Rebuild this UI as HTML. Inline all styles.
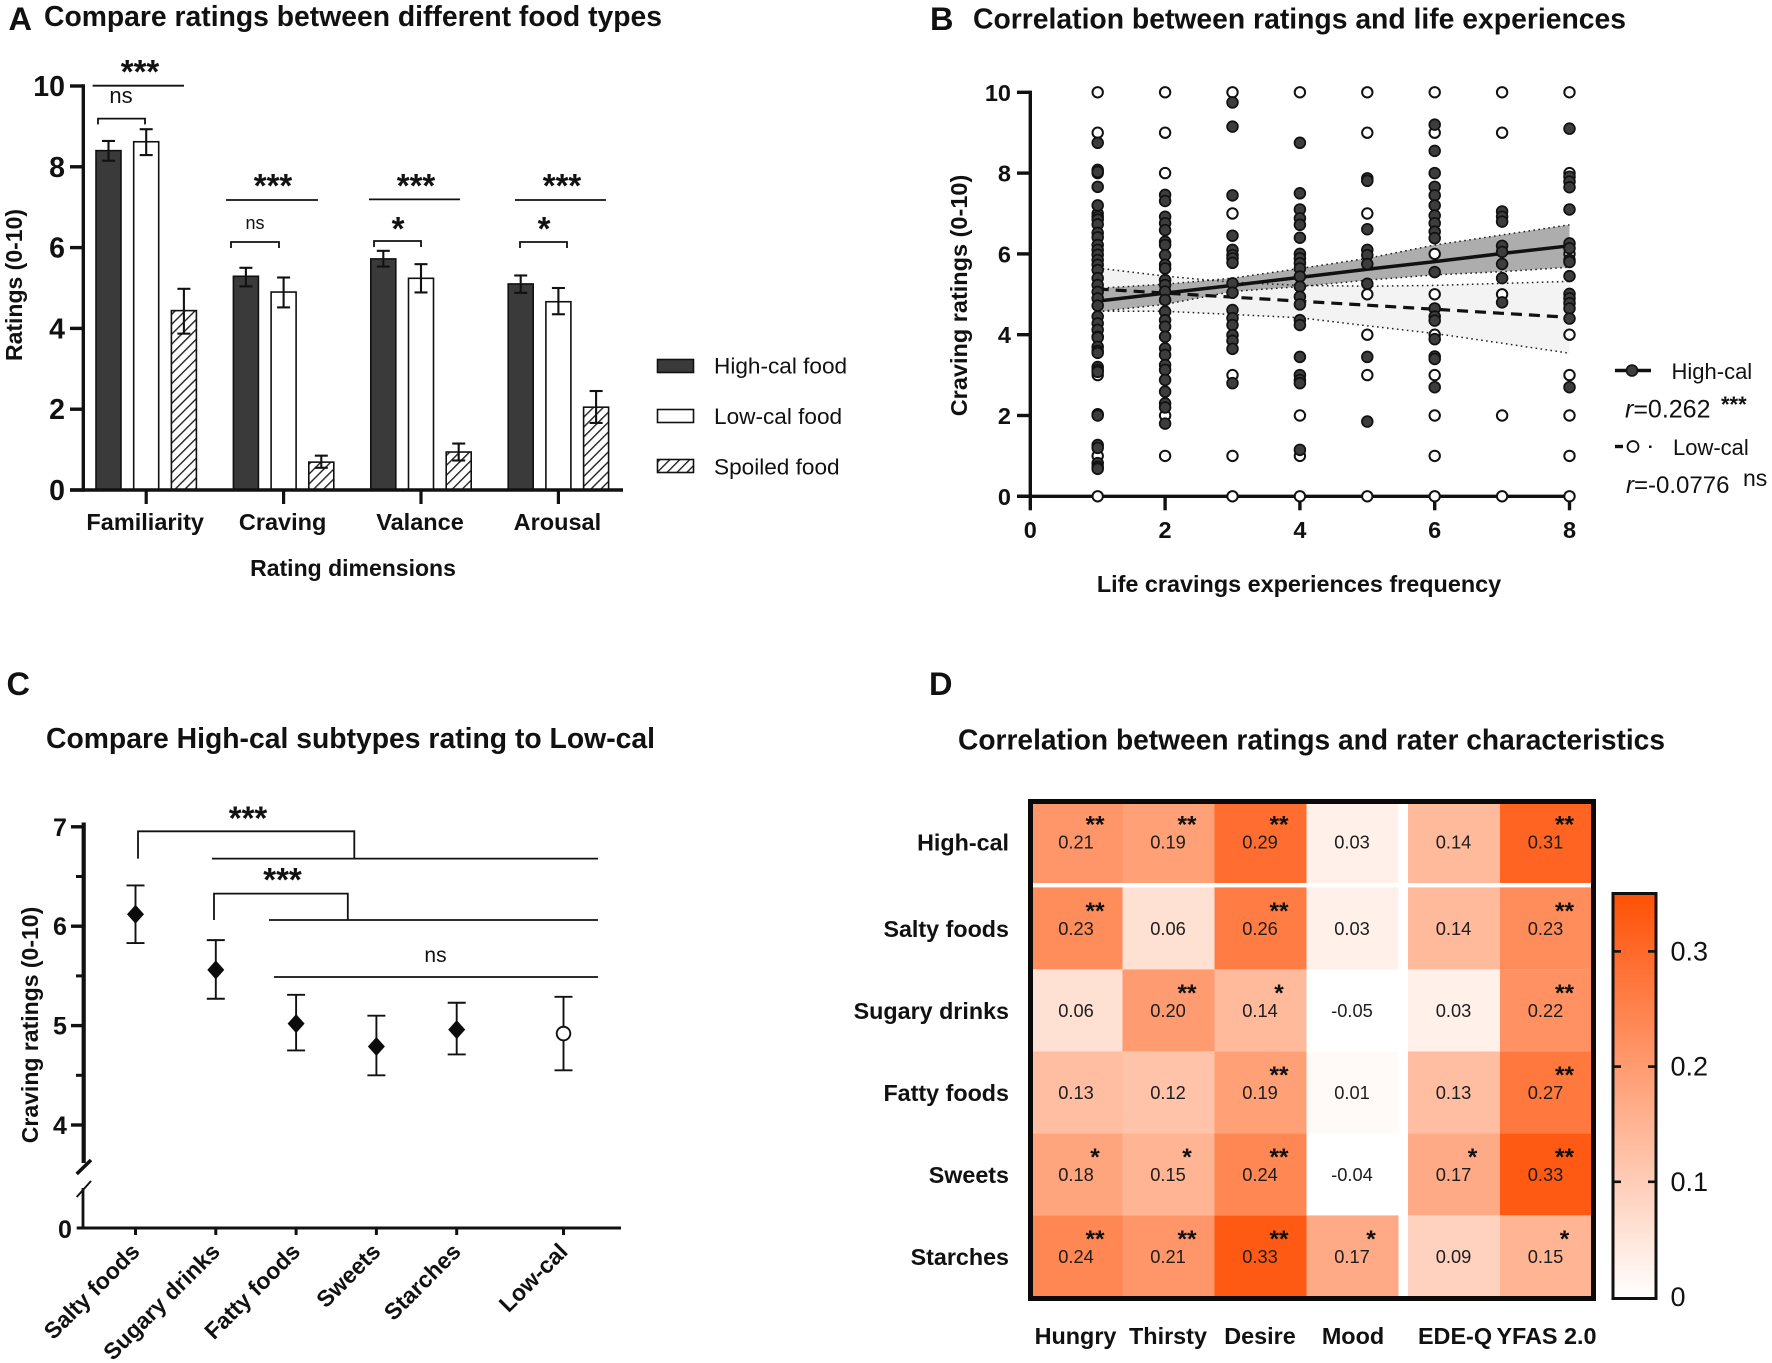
<!DOCTYPE html>
<html lang="en">
<head>
<meta charset="utf-8">
<title>Food rating figure</title>
<style>
html,body{margin:0;padding:0;background:#fff;}
#figure{display:block;width:1772px;height:1363px;font-family:"Liberation Sans",Arial,sans-serif;}
text{fill:#111;font-family:"Liberation Sans",Arial,sans-serif;}
.b{font-weight:bold;}
.title{font-size:28.5px;font-weight:bold;}
.letter{font-size:32.5px;font-weight:bold;}
.axt{font-size:23px;font-weight:bold;}
.star{font-size:33px;font-weight:bold;}
.sig{stroke:#111;stroke-width:1.8;fill:none;}
</style>
</head>
<body>
<svg id="figure" xmlns="http://www.w3.org/2000/svg" width="1772" height="1363" viewBox="0 0 1772 1363">
<defs>
<pattern id="hatch" patternUnits="userSpaceOnUse" width="7" height="7" patternTransform="rotate(45)">
<rect width="7" height="7" fill="#fff"/>
<line x1="0" y1="0" x2="0" y2="7" stroke="#222" stroke-width="2.8"/>
</pattern>
<linearGradient id="cbar" x1="0" y1="1" x2="0" y2="0">
<stop offset="0" stop-color="#ffffff"/>
<stop offset="1" stop-color="#ff5005"/>
</linearGradient>
</defs>
<rect width="1772" height="1363" fill="#fff"/>

<!-- Panel A -->
<g id="panelA">
<text class="letter" x="8.5" y="30">A</text>
<text class="title" x="44" y="26" textLength="618" lengthAdjust="spacingAndGlyphs">Compare ratings between different food types</text>
<text class="axt" transform="translate(22,285) rotate(-90)" text-anchor="middle">Ratings (0-10)</text>
<text class="axt" x="353" y="576" text-anchor="middle">Rating dimensions</text>
<g id="aMarks"></g>
<g>
<path class="sig" d="M92.6 85.7H184"/>
<text class="star" x="140" y="83" text-anchor="middle">***</text>
<text x="121" y="103" font-size="22" text-anchor="middle">ns</text>
<path class="sig" d="M98 124.4V118.6H145V124.4"/>
<path class="sig" d="M226 200H318"/>
<text class="star" x="273" y="197" text-anchor="middle">***</text>
<text x="255" y="229" font-size="18" text-anchor="middle">ns</text>
<path class="sig" d="M231 248V242H279V248"/>
<path class="sig" d="M369 199.4H460"/>
<text class="star" x="416" y="197" text-anchor="middle">***</text>
<text class="star" x="398" y="240" text-anchor="middle">*</text>
<path class="sig" d="M374 247V241H421V247"/>
<path class="sig" d="M515 200H606"/>
<text class="star" x="562" y="197" text-anchor="middle">***</text>
<text class="star" x="544" y="240" text-anchor="middle">*</text>
<path class="sig" d="M520 248V242H567V248"/>
</g>
<g>
<rect x="657.5" y="359.5" width="36" height="13" fill="#3a3a3a" stroke="#111" stroke-width="1.6"/>
<text x="714" y="373.5" font-size="22.6">High-cal food</text>
<rect x="657.5" y="409.5" width="36" height="13" fill="#fff" stroke="#111" stroke-width="1.6"/>
<text x="714" y="424" font-size="22.6">Low-cal food</text>
<rect x="657.5" y="459.5" width="36" height="13" fill="url(#hatch)" stroke="#111" stroke-width="1.6"/>
<text x="714" y="474.5" font-size="22.6">Spoiled food</text>
</g>
</g>

<!-- Panel B -->
<g id="panelB">
<text class="letter" x="930" y="30">B</text>
<text class="title" x="973" y="28.5" textLength="653" lengthAdjust="spacingAndGlyphs">Correlation between ratings and life experiences</text>
<text class="axt" transform="translate(967,295.5) rotate(-90)" text-anchor="middle" font-size="23.5" style="font-size:23.5px">Craving ratings (0-10)</text>
<text class="axt" x="1299" y="592" text-anchor="middle" style="font-size:23.4px">Life cravings experiences frequency</text>
<g id="bMarks"></g>
<g>
<line x1="1615" y1="370.5" x2="1651" y2="370.5" stroke="#111" stroke-width="3.4"/>
<circle cx="1632" cy="370.5" r="5.5" fill="#3d3d3d" stroke="#111" stroke-width="1.6"/>
<text x="1671.5" y="379" font-size="22">High-cal</text>
<text x="1625" y="417.5" font-size="25"><tspan font-style="italic">r</tspan>=0.262</text>
<text x="1721" y="412" font-size="22" class="b">***</text>
<line x1="1615" y1="446.5" x2="1623" y2="446.5" stroke="#111" stroke-width="3.4"/>
<circle cx="1633" cy="446.5" r="5.5" fill="#fff" stroke="#111" stroke-width="1.8"/>
<rect x="1649" y="445.5" width="2.5" height="2.5" fill="#111"/>
<text x="1673" y="455" font-size="22">Low-cal</text>
<text x="1626" y="493" font-size="24"><tspan font-style="italic">r</tspan>=-0.0776</text>
<text x="1743" y="486" font-size="23">ns</text>
</g>
</g>

<!-- Panel C -->
<g id="panelC">
<text class="letter" x="6.5" y="695">C</text>
<text class="title" x="46" y="748" textLength="609" lengthAdjust="spacingAndGlyphs">Compare High-cal subtypes rating to Low-cal</text>
<text class="axt" transform="translate(38,1025) rotate(-90)" text-anchor="middle">Craving ratings (0-10)</text>
<g id="cMarks"></g>
<g>
<path class="sig" d="M138 858.6V831.3H354.3V858.6"/>
<path class="sig" d="M212 858.6H598"/>
<text class="star" x="248" y="829.5" text-anchor="middle">***</text>
<path class="sig" d="M214 920V893.6H347.8V920"/>
<path class="sig" d="M269 920H598"/>
<text class="star" x="282.5" y="891" text-anchor="middle">***</text>
<path class="sig" d="M274 977H598"/>
<text x="435.5" y="962" font-size="21" text-anchor="middle">ns</text>
</g>
</g>

<!-- Panel D -->
<g id="panelD">
<text class="letter" x="929" y="695">D</text>
<text class="title" x="958" y="749.5" textLength="707" lengthAdjust="spacingAndGlyphs">Correlation between ratings and rater characteristics</text>
<g id="dMarks"></g>
<rect x="1030.5" y="801.5" width="563" height="497" fill="none" stroke="#0a0a0a" stroke-width="5"/>
<g>
<rect x="1613" y="893.5" width="43" height="405" fill="url(#cbar)" stroke="#111" stroke-width="3"/>
<g id="cbarTicks"></g>
</g>
</g>

<script>
/* ---------- Panel A data ---------- */
const aCategories = ['Familiarity', 'Craving', 'Valance', 'Arousal'];
const aSeries = ['high-cal', 'low-cal', 'spoiled'];
const aHighCal = [8.4, 5.29, 5.72, 5.1];
const aHighCalUpper = [8.64, 5.5, 5.92, 5.31];
const aHighCalLower = [8.15, 5.04, 5.53, 4.88];
const aLowCal = [8.62, 4.9, 5.24, 4.66];
const aLowCalUpper = [8.93, 5.26, 5.59, 5.0];
const aLowCalLower = [8.29, 4.52, 4.89, 4.35];
const aSpoiled = [4.44, 0.69, 0.94, 2.05];
const aSpoiledUpper = [4.98, 0.85, 1.15, 2.45];
const aSpoiledLower = [3.87, 0.55, 0.73, 1.66];
const aYTicks = [0, 2, 4, 6, 8, 10];

/* ---------- Panel B data ---------- */
const bXTicks = [0, 2, 4, 6, 8];
const bYTicks = [0, 2, 4, 6, 8, 10];
const bFrequencies = [1, 2, 3, 4, 5, 6, 7, 8];
const bHighRatings = [
  [8.75,8.08,8.03,7.66,7.2,6.92,6.85,6.73,6.52,6.41,6.22,6.1,5.98,5.85,5.73,5.6,5.4,5.23,5.06,4.9,4.72,4.45,4.28,4.12,3.95,3.93,3.7,3.6,3.55,3.2,3.13,3.08,2.03,2.0,1.27,1.2,0.82,0.73,0.68],
  [7.46,7.31,6.92,6.76,6.59,6.3,6.22,5.97,5.73,5.64,5.35,5.23,5.07,4.86,4.57,4.36,4.2,3.95,3.66,3.5,3.25,3.13,2.88,2.59,2.3,2.2,1.8],
  [9.75,9.15,7.45,6.45,6.1,5.97,5.89,5.78,5.27,5.04,4.61,4.41,4.24,3.99,3.85,3.65,2.8],
  [8.75,7.5,7.1,6.88,6.72,6.4,6.0,5.89,5.77,5.64,5.44,5.19,4.94,4.75,4.36,4.24,3.45,3.0,2.88,2.8,1.15],
  [7.87,7.81,6.61,6.1,5.97,5.75,5.26,3.45,1.85],
  [9.2,8.55,8.0,7.66,7.45,7.2,6.95,6.76,6.55,6.39,5.55,4.65,4.45,4.35,3.89,3.46,3.4,2.7],
  [7.05,6.92,6.8,6.2,6.05,5.75,5.4,4.8],
  [9.1,7.91,7.79,7.65,7.1,6.26,6.14,5.85,5.8,5.45,5.01,4.9,4.78,4.65,4.4,2.7]
];
const bLowRatings = [
  [10,9,8,7,3,1,0],
  [10,9,8,2,1],
  [10,7,3,1,0],
  [10,2,1,0],
  [10,9,7,5,4,3,0],
  [10,9,6,5,4,3,2,1,0],
  [10,9,5,2,0],
  [10,8,6,4,3,2,1,0]
];
const bHighFit = [4.83, 5.03, 5.22, 5.42, 5.62, 5.81, 6.01, 6.2];
const bHighUpper = [5.15, 5.25, 5.4, 5.64, 5.89, 6.22, 6.47, 6.72];
const bHighLower = [4.57, 4.75, 5.07, 5.19, 5.35, 5.48, 5.56, 5.67];
const bLowFit = [5.13, 5.03, 4.93, 4.83, 4.73, 4.63, 4.53, 4.43];
const bLowUpper = [5.65, 5.45, 5.3, 5.22, 5.2, 5.22, 5.27, 5.32];
const bLowLower = [4.58, 4.58, 4.5, 4.42, 4.22, 4.03, 3.79, 3.54];

/* ---------- Panel C data ---------- */
const cCategories = ['Salty foods', 'Sugary drinks', 'Fatty foods', 'Sweets', 'Starches', 'Low-cal'];
const cSlots = [0, 1, 2, 3, 4, 5.33];
const cMeans = [6.12, 5.56, 5.02, 4.79, 4.96, 4.92];
const cUpper = [6.41, 5.86, 5.31, 5.1, 5.23, 5.29];
const cLower = [5.83, 5.27, 4.75, 4.5, 4.71, 4.55];
const cYTicks = [4, 5, 6, 7];
const cMinorTicks = [4.5, 5.5, 6.5];

/* ---------- Panel D data ---------- */
const dRows = ['High-cal', 'Salty foods', 'Sugary drinks', 'Fatty foods', 'Sweets', 'Starches'];
const dCols = ['Hungry', 'Thirsty', 'Desire', 'Mood', 'EDE-Q', 'YFAS 2.0'];
const dValues = [
  ['0.21','0.19','0.29','0.03','0.14','0.31'],
  ['0.23','0.06','0.26','0.03','0.14','0.23'],
  ['0.06','0.20','0.14','-0.05','0.03','0.22'],
  ['0.13','0.12','0.19','0.01','0.13','0.27'],
  ['0.18','0.15','0.24','-0.04','0.17','0.33'],
  ['0.24','0.21','0.33','0.17','0.09','0.15']
];
const dStars = [
  ['**','**','**','','','**'],
  ['**','','**','','','**'],
  ['','**','*','','','**'],
  ['','','**','','','**'],
  ['*','*','**','','*','**'],
  ['**','**','**','*','','*']
];
const dScaleMax = 0.35;
const dBarTicks = ['0', '0.1', '0.2', '0.3'];

/* ---------- helpers ---------- */
const NS = 'http://www.w3.org/2000/svg';
function mk(parent, tag, attrs, name, txt) {
  const el = document.createElementNS(NS, tag);
  for (const k in attrs) el.setAttribute(k, attrs[k]);
  
  
  if (txt !== undefined) el.textContent = txt;
  parent.appendChild(el);
  return el;
}
function line(p, x1, y1, x2, y2, w, name) {
  return mk(p, 'line', {x1: x1, y1: y1, x2: x2, y2: y2, stroke: '#111', 'stroke-width': w}, name);
}
function slug(s) { return String(s).toLowerCase().replace(/[^a-z0-9]+/g, '-'); }

/* ---------- Panel A ---------- */
(function () {
  const g = document.getElementById('aMarks');
  const yA = v => 490 - 40.4 * v;
  const xA = (c, s) => 108.5 + 137.4 * c + 37.7 * s;
  const barW = 25;
  const vals = [aHighCal, aLowCal, aSpoiled];
  const ups = [aHighCalUpper, aLowCalUpper, aSpoiledUpper];
  const los = [aHighCalLower, aLowCalLower, aSpoiledLower];
  const fills = ['#3a3a3a', '#fff', 'url(#hatch)'];
  aSeries.forEach((sName, s) => {
    aCategories.forEach((cName, c) => {
      const cx = xA(c, s), y = yA(vals[s][c]);
      mk(g, 'rect', {x: cx - barW / 2, y: y, width: barW, height: yA(0) - y, fill: fills[s], stroke: '#111', 'stroke-width': 1.6}, 'bar-' + slug(cName) + '-' + sName);
      const u = yA(ups[s][c]), l = yA(los[s][c]);
      line(g, cx, u, cx, l, 2.1, 'error-bar-' + slug(cName) + '-' + sName);
      line(g, cx - 6.5, u, cx + 6.5, u, 2.1, 'error-cap-upper-' + slug(cName) + '-' + sName);
      line(g, cx - 6.5, l, cx + 6.5, l, 2.1, 'error-cap-lower-' + slug(cName) + '-' + sName);
    });
  });
  line(g, 83.3, yA(10) - 1.7, 83.3, yA(0) + 1.7, 3.4, 'y-axis');
  line(g, 70, yA(0), 623, yA(0), 3.4, 'x-axis');
  aYTicks.forEach(t => {
    line(g, 70, yA(t), 83, yA(t), 3.4, 'y-tick-' + t);
    mk(g, 'text', {x: 65, y: yA(t) + 10, 'text-anchor': 'end', 'font-size': 28.5, 'font-weight': 'bold'}, 'y-tick-label-' + t, String(t));
  });
  aCategories.forEach((cName, c) => {
    const cx = xA(c, 1);
    line(g, cx, yA(0), cx, yA(0) + 14, 3.2, 'x-tick-' + slug(cName));
    mk(g, 'text', {x: cx - 1, y: 530, 'text-anchor': 'middle', 'font-size': 23.5, 'font-weight': 'bold'}, 'x-tick-label-' + slug(cName), cName);
  });
})();

/* ---------- Panel B ---------- */
(function () {
  const g = document.getElementById('bMarks');
  const xB = v => 1030.3 + 67.4 * v;
  const yB = v => 496.3 - 40.4 * v;
  const band = (up, lo) => bFrequencies.map((f, i) => xB(f) + ',' + yB(up[i])).concat(bFrequencies.map((f, i) => xB(f) + ',' + yB(lo[i])).reverse()).join(' ');
  const path = arr => bFrequencies.map((f, i) => (i ? 'L' : 'M') + xB(f) + ' ' + yB(arr[i])).join('');
  mk(g, 'polygon', {points: band(bLowUpper, bLowLower), fill: '#f3f3f3'}, 'low-cal-confidence-band');
  mk(g, 'polygon', {points: band(bHighUpper, bHighLower), fill: '#adadad'}, 'high-cal-confidence-band');
  [[bLowUpper, 'low-cal-ci-upper'], [bLowLower, 'low-cal-ci-lower'], [bHighUpper, 'high-cal-ci-upper'], [bHighLower, 'high-cal-ci-lower']].forEach(pair => {
    mk(g, 'path', {d: path(pair[0]), fill: 'none', stroke: '#222', 'stroke-width': 1.5, 'stroke-dasharray': '1.6 3.4'}, pair[1]);
  });
  line(g, 1030.3, yB(10) - 1.7, 1030.3, yB(0) + 1.7, 3.4, 'y-axis');
  line(g, 1017, yB(0), xB(8) + 1, yB(0), 3.4, 'x-axis');
  bYTicks.forEach(t => {
    line(g, 1017, yB(t), 1030, yB(t), 3.4, 'y-tick-' + t);
    mk(g, 'text', {x: 1011, y: yB(t) + 8.5, 'text-anchor': 'end', 'font-size': 23.5, 'font-weight': 'bold'}, 'y-tick-label-' + t, String(t));
  });
  bXTicks.forEach(t => {
    line(g, xB(t), yB(0), xB(t), yB(0) + 14, 3.4, 'x-tick-' + t);
    mk(g, 'text', {x: xB(t), y: 538, 'text-anchor': 'middle', 'font-size': 23.5, 'font-weight': 'bold'}, 'x-tick-label-' + t, String(t));
  });
  mk(g, 'path', {d: path(bLowFit), fill: 'none', stroke: '#111', 'stroke-width': 3.2, 'stroke-dasharray': '11 7'}, 'low-cal-regression-line');
  mk(g, 'path', {d: path(bHighFit), fill: 'none', stroke: '#111', 'stroke-width': 3.5}, 'high-cal-regression-line');
  bFrequencies.forEach((f, i) => {
    bLowRatings[i].forEach(v => {
      mk(g, 'circle', {cx: xB(f), cy: yB(v), r: 5.2, fill: '#fff', stroke: '#111', 'stroke-width': 2}, 'low-cal-point');
    });
  });
  bFrequencies.forEach((f, i) => {
    bHighRatings[i].forEach(v => {
      mk(g, 'circle', {cx: xB(f), cy: yB(v), r: 5.4, fill: '#3d3d3d', stroke: '#111', 'stroke-width': 1.7}, 'high-cal-point');
    });
  });
})();

/* ---------- Panel C ---------- */
(function () {
  const g = document.getElementById('cMarks');
  const yC = v => 1025.6 - 99.4 * (v - 5);
  const xC = s => 135.5 + 80.3 * s;
  line(g, 83.7, 822.5, 83.7, 1163, 4.2, 'y-axis-upper');
  line(g, 76.7, 1174, 91, 1160, 3.6, 'axis-break-upper');
  line(g, 76.7, 1197, 91, 1181, 1.9, 'axis-break-lower');
  line(g, 83, 1188, 83, 1228, 2.8, 'y-axis-lower');
  line(g, 76.7, 1228, 621, 1228, 3, 'x-axis');
  cYTicks.forEach(t => {
    line(g, 71, yC(t), 84, yC(t), 3.4, 'y-tick-' + t);
    mk(g, 'text', {x: 60, y: yC(t) + 9, 'text-anchor': 'middle', 'font-size': 25, 'font-weight': 'bold'}, 'y-tick-label-' + t, String(t));
  });
  cMinorTicks.forEach(t => {
    line(g, 76, yC(t), 84, yC(t), 3, 'y-minor-tick-' + t);
  });
  mk(g, 'text', {x: 65, y: 1238, 'text-anchor': 'middle', 'font-size': 25, 'font-weight': 'bold'}, 'y-tick-label-0', '0');
  cCategories.forEach((cName, i) => {
    const cx = xC(cSlots[i]), n = slug(cName);
    line(g, cx, 1228, cx, 1235, 3, 'x-tick-' + n);
    mk(g, 'text', {transform: 'translate(' + (cx + 5.5) + ',1253) rotate(-45)', 'text-anchor': 'end', 'font-size': 23, 'font-weight': 'bold'}, 'x-tick-label-' + n, cName);
    const u = yC(cUpper[i]), l = yC(cLower[i]), m = yC(cMeans[i]);
    line(g, cx, u, cx, l, 1.9, 'error-bar-' + n);
    line(g, cx - 9, u, cx + 9, u, 1.9, 'error-cap-upper-' + n);
    line(g, cx - 9, l, cx + 9, l, 1.9, 'error-cap-lower-' + n);
    if (cName === 'Low-cal') {
      mk(g, 'circle', {cx: cx, cy: m, r: 6.8, fill: '#fff', stroke: '#111', 'stroke-width': 1.9}, 'point-' + n);
    } else {
      mk(g, 'polygon', {points: [(cx - 8.5) + ',' + m, cx + ',' + (m - 9.5), (cx + 8.5) + ',' + m, cx + ',' + (m + 9.5)].join(' '), fill: '#0c0c0c'}, 'point-' + n);
    }
  });
})();

/* ---------- Panel D ---------- */
(function () {
  const g = document.getElementById('dMarks');
  const heatX = i => 1030.5 + 92 * i + (i >= 4 ? 9.5 : 0);
  const heatY = j => 801 + 82 * j + (j >= 1 ? 4.4 : 0);
  const color = v => {
    const t = Math.max(0, Math.min(1, v / dScaleMax));
    return 'rgb(255,' + Math.round(255 - 175 * t) + ',' + Math.round(255 - 250 * t) + ')';
  };
  dRows.forEach((rName, j) => {
    dCols.forEach((cName, i) => {
      const v = parseFloat(dValues[j][i]);
      mk(g, 'rect', {x: heatX(i), y: heatY(j), width: 92, height: 82, fill: color(v)}, 'cell-' + slug(rName) + '-' + slug(cName));
      mk(g, 'text', {x: heatX(i) + 45.5, y: heatY(j) + 47.5, 'text-anchor': 'middle', 'font-size': 18.3, style: 'fill:#1d1d1d'}, 'cell-value-' + slug(rName) + '-' + slug(cName), dValues[j][i]);
      if (dStars[j][i]) {
        mk(g, 'text', {x: heatX(i) + 64.5, y: heatY(j) + 31.5, 'text-anchor': 'middle', 'font-size': 24.5, 'font-weight': 'bold'}, 'cell-stars-' + slug(rName) + '-' + slug(cName), dStars[j][i]);
      }
    });
    mk(g, 'text', {x: 1009, y: heatY(j) + 49.5, 'text-anchor': 'end', 'font-size': 23.3, 'font-weight': 'bold'}, 'row-label-' + slug(rName), rName);
  });
  const colLabelX = [1075.5, 1168, 1260, 1353, 1455, 1546.5];
  dCols.forEach((cName, i) => {
    mk(g, 'text', {x: colLabelX[i], y: 1344, 'text-anchor': 'middle', 'font-size': 23.4, 'font-weight': 'bold'}, 'col-label-' + slug(cName), cName);
  });
  const t = document.getElementById('cbarTicks');
  const yBar = v => 1297 - 1152 * v;
  dBarTicks.forEach(lbl => {
    const v = parseFloat(lbl), y = yBar(v);
    if (v > 0) {
      line(t, 1613, y, 1621, y, 2.6, 'colorbar-tick-left-' + lbl);
      line(t, 1648, y, 1656, y, 2.6, 'colorbar-tick-right-' + lbl);
    }
    mk(t, 'text', {x: 1670.5, y: y + 9, 'font-size': 27}, 'colorbar-label-' + lbl, lbl);
  });
})();
</script>
</svg>
</body>
</html>
